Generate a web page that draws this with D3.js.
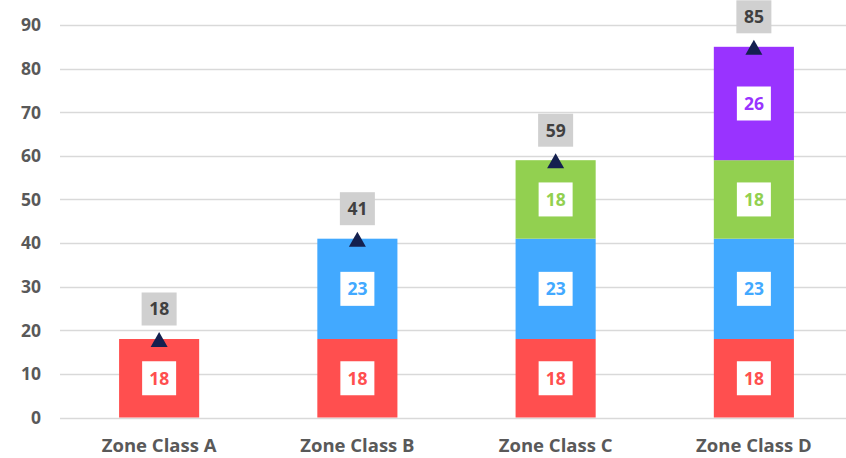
<!DOCTYPE html>
<html>
<head>
<meta charset="utf-8">
<script src="https://cdn.jsdelivr.net/npm/d3@7"></script>
<style>
  html, body { margin: 0; padding: 0; background: #fff; }
  svg { display: block; }
  text { font-family: "Open Sans", "Noto Sans", sans-serif; font-weight: 700; }
</style>
</head>
<body>
<svg id="chart" width="846" height="458"></svg>
<script>
const categories = ["Zone Class A", "Zone Class B", "Zone Class C", "Zone Class D"];
const seriesNames = ["S1", "S2", "S3", "S4"];
const seriesColors = ["#ff4f4f", "#42a9ff", "#92d050", "#9933ff"];
const s1 = [18, 18, 18, 18];
const s2 = [0, 23, 23, 23];
const s3 = [0, 0, 18, 18];
const s4 = [0, 0, 0, 26];
const totals = [18, 41, 59, 85];
const yTicks = [0, 10, 20, 30, 40, 50, 60, 70, 80, 90];

const seriesValues = [s1, s2, s3, s4];
const rows = categories.map((c, i) => {
  const r = { cat: c };
  seriesNames.forEach((s, k) => r[s] = seriesValues[k][i]);
  return r;
});
const stack = d3.stack().keys(seriesNames)(rows);

const svg = d3.select("#chart");
const W = 846, H = 458;
const x = d3.scaleBand().domain(categories).range([60, 853]).paddingInner(0.596).paddingOuter(0.298);
const y = d3.scaleLinear().domain([0, 90]).range([417.5, 25]);

// gridlines
svg.append("g").selectAll("line").data(yTicks).join("line")
  .attr("x1", 60).attr("x2", W)
  .attr("y1", d => Math.round(y(d)) + 0.5).attr("y2", d => Math.round(y(d)) + 0.5)
  .attr("stroke", "#d9d9d9").attr("stroke-width", 1.5);

// y tick labels
svg.append("g").selectAll("text").data(yTicks).join("text")
  .attr("x", 41).attr("y", d => y(d)).attr("dy", "0.36em")
  .attr("text-anchor", "end").attr("font-size", 17.5).attr("fill", "#595959")
  .text(d => d);

// bars
const layers = svg.append("g").selectAll("g").data(stack).join("g")
  .attr("fill", (d, i) => seriesColors[i]);
layers.selectAll("rect").data(d => d.filter(p => p[1] - p[0] > 0)).join("rect")
  .attr("x", d => x(d.data.cat)).attr("width", x.bandwidth())
  .attr("y", d => y(d[1])).attr("height", d => y(d[0]) - y(d[1]));

// segment value labels
stack.forEach((layer, k) => {
  const g = svg.append("g");
  const pts = layer.filter(p => p[1] - p[0] > 0);
  const lg = g.selectAll("g").data(pts).join("g")
    .attr("transform", d => `translate(${x(d.data.cat) + x.bandwidth() / 2},${y((d[0] + d[1]) / 2)})`);
  lg.append("rect").attr("x", -17).attr("y", -17).attr("width", 34).attr("height", 34).attr("fill", "#fff");
  lg.append("text").attr("text-anchor", "middle").attr("dy", "0.36em")
    .attr("font-size", 17.5).attr("fill", seriesColors[k]).text(d => d[1] - d[0]);
});

// total markers and labels
const tg = svg.append("g").selectAll("g").data(categories).join("g")
  .attr("transform", (c, i) => `translate(${x(c) + x.bandwidth() / 2},${y(totals[i])})`);
tg.append("path").attr("d", "M0,-7L8.5,8L-8.5,8Z").attr("fill", "#14204f");
tg.append("rect").attr("x", -17.5).attr("y", -46.5).attr("width", 35).attr("height", 33).attr("fill", "#d0d0d0");
tg.append("text").attr("text-anchor", "middle").attr("y", -30).attr("dy", "0.36em")
  .attr("font-size", 17.5).attr("fill", "#404040").text((c, i) => totals[i]);

// category labels
svg.append("g").selectAll("text").data(categories).join("text")
  .attr("x", c => x(c) + x.bandwidth() / 2).attr("y", 452)
  .attr("text-anchor", "middle").attr("font-size", 18.5).attr("fill", "#595959")
  .text(c => c);
</script>
</body>
</html>
